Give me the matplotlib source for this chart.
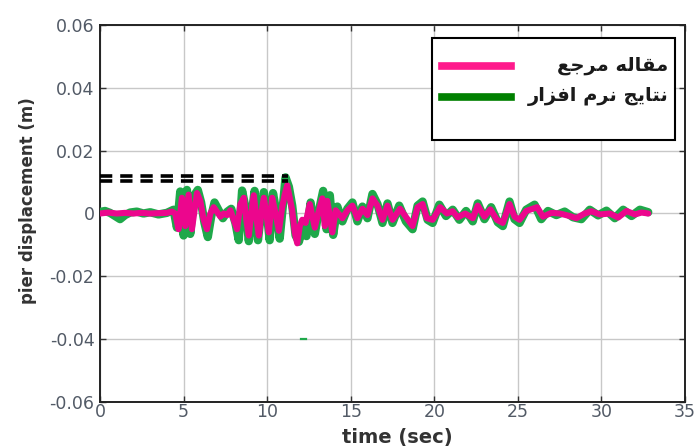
import matplotlib
matplotlib.use("Agg")
import matplotlib.pyplot as plt
from matplotlib.patches import Rectangle
from matplotlib.lines import Line2D

# reference paper series (pink)
t_ref = [0, 0.5, 1.0, 1.5, 2.0, 2.5, 3.0, 3.5, 4.0, 4.3,
         4.5, 4.7, 4.9, 5.1, 5.3, 5.5, 5.8, 6.0, 6.2, 6.4,
         6.6, 6.8, 7.0, 7.2, 7.4, 7.6, 7.8, 8.0, 8.2, 8.4,
         8.6, 8.75, 8.9, 9.05, 9.2, 9.35, 9.5, 9.65, 9.8, 9.95,
         10.1, 10.3, 10.5, 10.7, 10.9, 11.05, 11.2, 11.35, 11.5, 11.65,
         11.8, 11.95, 12.1, 12.3, 12.55, 12.85, 13.05, 13.3, 13.45, 13.6,
         13.9, 14.1, 14.5, 14.8, 15.1, 15.4, 15.7, 16.0, 16.3, 16.6,
         16.9, 17.2, 17.5, 17.95, 18.4, 18.7, 19.0, 19.3, 19.55, 19.9,
         20.35, 20.75, 21.1, 21.4, 21.85, 22.3, 22.6, 23.0, 23.35, 23.75,
         24.1, 24.5, 24.8, 25.1, 25.5, 26.15, 26.5, 27.0, 27.5, 28.1,
         28.5, 29.0, 29.4, 29.9, 30.5, 31.0, 31.5, 32.0, 32.4, 32.8]
d_ref = [0.0, 0.0003, 0.0, 0.0002, 0.0, 0.0002, 0.0, 0.0001, 0.0002, 0.0006,
         0.0, -0.005, 0.005, -0.004, 0.006, -0.005, 0.0065, 0.004, -0.002, -0.005,
         0.0, 0.002, 0.0005, -0.001, 0.0, -0.0005, 0.001, -0.002, -0.005, 0.003,
         0.005, -0.002, -0.007, 0.0, 0.0058, -0.001, -0.007, 0.0, 0.005, 0.0,
         -0.006, 0.005, 0.0, -0.0055, 0.002, 0.006, 0.009, 0.005, 0.001, -0.006,
         -0.0095, -0.004, -0.002, -0.003, 0.003, -0.0045, 0.0, 0.0048, -0.004, 0.004,
         -0.006, 0.001, -0.0015, 0.001, 0.0025, -0.0015, 0.0015, -0.0005, 0.0048, 0.0025,
         -0.002, 0.0025, -0.002, 0.0015, -0.0018, -0.004, 0.002, 0.003, -0.0015, -0.002,
         0.002, 0.0, 0.0007, -0.0012, 0.0, -0.0015, 0.0025, -0.001, 0.0013, -0.002,
         -0.003, 0.003, -0.001, -0.002, 0.0008, 0.002, -0.001, 0.0002, 0.0, -0.0008,
         -0.0015, 0.0, 0.0007, -0.0003, 0.0, -0.0013, 0.0008, -0.0003, 0.0003, 0.0]

# software results series (green)
t_sw = [0, 0.3, 0.6, 0.9, 1.2, 1.5, 1.8, 2.2, 2.6, 3.0,
        3.5, 4.0, 4.4, 4.6, 4.8, 5.0, 5.2, 5.4, 5.6, 5.85,
        6.05, 6.25, 6.45, 6.65, 6.85, 7.1, 7.35, 7.6, 7.85, 8.1,
        8.3, 8.5, 8.7, 8.9, 9.1, 9.25, 9.45, 9.65, 9.8, 10.0,
        10.15, 10.35, 10.55, 10.75, 10.95, 11.1, 11.3, 11.5, 11.7, 11.9,
        12.1, 12.35, 12.6, 12.85, 13.1, 13.35, 13.55, 13.75, 13.95, 14.2,
        14.5, 14.8, 15.1, 15.4, 15.7, 16.0, 16.3, 16.6, 16.9, 17.2,
        17.5, 17.9, 18.3, 18.7, 19.0, 19.3, 19.6, 19.9, 20.3, 20.7,
        21.1, 21.5, 21.9, 22.3, 22.6, 23.0, 23.4, 23.8, 24.1, 24.5,
        24.8, 25.1, 25.5, 26.0, 26.4, 26.8, 27.3, 27.8, 28.3, 28.8,
        29.3, 29.8, 30.3, 30.8, 31.3, 31.8, 32.3, 32.8]
d_sw = [0.0005, 0.0008, 0.0002, -0.0008, -0.0018, -0.0005, 0.0003, 0.0006, 0.0, 0.0004,
        -0.0003, 0.0002, 0.0012, -0.0045, 0.007, -0.007, 0.0075, -0.0065, 0.0055, 0.0075,
        0.0035, -0.003, -0.0075, -0.001, 0.0035, 0.001, -0.0015, 0.0005, 0.0015, -0.003,
        -0.0085, 0.0073, 0.002, -0.0088, 0.001, 0.0072, -0.0085, 0.001, 0.0068, -0.001,
        -0.0085, 0.0065, 0.0005, -0.008, 0.003, 0.0115, 0.0085, 0.0025, -0.007, -0.009,
        -0.005, -0.0072, 0.0035, -0.0065, 0.001, 0.0072, -0.005, 0.0058, -0.0068, 0.0022,
        -0.0025, 0.0015, 0.0035, -0.0025, 0.0022, -0.0015, 0.0062, 0.003, -0.003, 0.0032,
        -0.003, 0.0025, -0.0025, -0.005, 0.0025, 0.0038, -0.002, -0.003, 0.0028, -0.0008,
        0.0012, -0.002, 0.0008, -0.0025, 0.0032, -0.0018, 0.002, -0.0028, -0.004, 0.0038,
        -0.0018, -0.003, 0.0012, 0.0028, -0.0018, 0.0008, -0.0005, 0.0006, -0.0012, -0.0018,
        0.0012, -0.0006, 0.0009, -0.0015, 0.0012, -0.0008, 0.0012, 0.0004]

# stray green fragment on the -0.04 grid line
t_blip = [12.0, 12.3]
d_blip = [-0.04, -0.04]

# black dashed reference level (two rows)
t_dash = [0, 11.25]
d_dash_hi = [0.0120, 0.0120]
d_dash_lo = [0.0103, 0.0103]

x_ticks = [0, 5, 10, 15, 20, 25, 30, 35]
y_ticks = [-0.06, -0.04, -0.02, 0, 0.02, 0.04, 0.06]
y_tick_labels = ["-0.06", "-0.04", "-0.02", "0", "0.02", "0.04", "0.06"]

# Persian legend labels, pre-shaped (presentation forms, visual order)
label_ref = "\uFECA\uFE9F\uFEAE\uFEE3 \uFEEA\uFEDF\uFE8E\uFED8\uFEE3"  # مقاله مرجع
label_sw = ("\uFEAD\uFE8D\uFEB0\uFED3\uFE8D \uFEE1\uFEAE\uFEE7 "
            "\uFE9E\uFEF3\uFE8E\uFE98\uFEE7")  # نتایج نرم افزار

PINK = "#ec068d"
GREEN = "#1fa84a"

plt.rcParams["font.family"] = ["DejaVu Sans"]

fig = plt.figure(figsize=(6.97, 4.48), dpi=100)
ax = fig.add_axes([0.1435, 0.1027, 0.8393, 0.8415])

ax.plot(t_sw, d_sw, color=GREEN, lw=6.0, solid_joinstyle="round",
        solid_capstyle="round", zorder=3)
ax.plot(t_ref, d_ref, color=PINK, lw=4.4, solid_joinstyle="round",
        solid_capstyle="round", zorder=4)
ax.plot(t_blip, d_blip, color=GREEN, lw=1.6, zorder=3)
ax.plot(t_dash, d_dash_hi, color="black", lw=2.6, dashes=(3.4, 2.2), zorder=5)
ax.plot(t_dash, d_dash_lo, color="black", lw=2.6, dashes=(3.4, 2.2), zorder=5)

ax.set_xlim(0, 35)
ax.set_ylim(-0.06, 0.06)
ax.set_xticks(x_ticks)
ax.set_yticks(y_ticks)
ax.set_yticklabels(y_tick_labels)
ax.grid(True, color="#c8c8c8", lw=1.0)
ax.set_axisbelow(True)
ax.tick_params(direction="in", length=4, width=1, top=True, right=True,
               labelsize=12.5, labelcolor="#525a66", colors="#333333", pad=4)
ax.tick_params(axis="x", pad=1)
for sp in ax.spines.values():
    sp.set_linewidth(1.4)
    sp.set_color("#222222")

ax.set_xlabel("time (sec)", fontsize=14, fontweight="bold", color="#333333")
ax.set_ylabel("pier displacement (m)", fontsize=12, fontweight="bold", color="#333333")
ax.xaxis.set_label_coords(0.508, -0.068)
ax.yaxis.set_label_coords(-0.108, 0.533)

# legend box drawn by hand to match the original layout
ax.add_patch(Rectangle((0.5675, 0.695), 0.4155, 0.2705, transform=ax.transAxes,
                       facecolor="white", edgecolor="black", lw=1.5, zorder=6))
ax.add_line(Line2D([0.585, 0.703], [0.891, 0.891], transform=ax.transAxes,
                   color="#ff1a8c", lw=5.5, zorder=7))
ax.add_line(Line2D([0.585, 0.703], [0.809, 0.809], transform=ax.transAxes,
                   color="#008000", lw=5.5, zorder=7))
ax.text(0.972, 0.893, label_ref, transform=ax.transAxes, ha="right", va="center",
        fontsize=14, fontweight="bold", color="#1a1a1a", zorder=7)
ax.text(0.972, 0.811, label_sw, transform=ax.transAxes, ha="right", va="center",
        fontsize=14, fontweight="bold", color="#1a1a1a", zorder=7)

fig.savefig("out.png", dpi=100)
